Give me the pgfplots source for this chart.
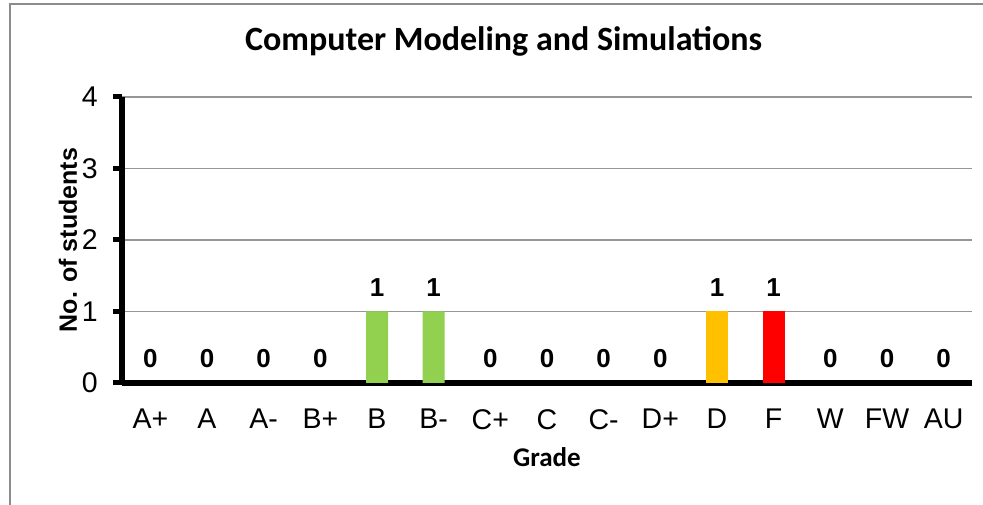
\documentclass[border=0pt]{standalone}
\usepackage{fontspec}
\setmainfont{Liberation Sans}
\newfontfamily\calibri{Carlito}
\usepackage{pgfplots}
\pgfplotsset{compat=1.18}
\definecolor{bgreen}{HTML}{92D050}
\definecolor{borange}{HTML}{FFC000}
\definecolor{bred}{HTML}{FF0000}
\definecolor{gridgray}{HTML}{969696}
\definecolor{framegray}{HTML}{8C8C8C}
\begin{document}
\begin{tikzpicture}[x=1pt,y=1pt]
\begin{axis}[
  at={(122pt,122pt)}, anchor=south west,
  scale only axis, width=850pt, height=286pt,
  xmin=-0.5, xmax=14.5, ymin=0, ymax=4,
  enlargelimits=false, clip=false,
  axis lines*=left,
  axis line style={line width=6pt, black, -},
  xtick={0,...,14},
  xticklabels={A+,A,A-,B+,B,B-,C+,C,C-,D+,D,F,W,FW,AU},
  minor xtick={-0.5,0.5,...,14.5},
  ytick={0,1,2,3,4},
  tick align=outside,
  major tick length=9pt, minor tick length=9pt,
  xtick style={draw=none},
  minor x tick style={line width=5pt, black},
  ytick style={line width=5pt, black},
  ymajorgrids,
  grid style={gridgray, line width=1.3pt},
  /pgf/number format/assume math mode=true,
  tick label style={font=\fontsize{28.5pt}{34pt}\selectfont},
  xticklabel style={inner sep=0pt, anchor=north, yshift=-26pt+9pt},
  yticklabel style={inner sep=0pt, anchor=east, xshift=-24pt+9pt},
  ybar, bar width=22pt, bar shift=0pt,
  nodes near coords,
  nodes near coords style={font=\fontsize{26pt}{31pt}\selectfont\bfseries, anchor=south, inner sep=0pt, yshift=15pt, black},
  title={\calibri\bfseries Computer Modeling and Simulations},
  title style={font=\fontsize{34pt}{40pt}\selectfont, at={(axis description cs:0.449,1.143)}, anchor=base, inner sep=0pt},
  xlabel={\calibri\bfseries Grade},
  xlabel style={font=\fontsize{27pt}{32pt}\selectfont, at={(axis description cs:0.5,-0.2937)}, anchor=base, inner sep=0pt},
  ylabel={\bfseries No. of students},
  ylabel style={font=\fontsize{25pt}{30pt}\selectfont, at={(axis description cs:-0.0635,0.5)}, anchor=center, inner sep=0pt},
]
\addplot[draw=none, fill=none] coordinates {(0,0) (1,0) (2,0) (3,0) (6,0) (7,0) (8,0) (9,0) (12,0) (13,0) (14,0)};
\addplot[draw=none, fill=bgreen] coordinates {(4,1) (5,1)};
\addplot[draw=none, fill=borange] coordinates {(10,1)};
\addplot[draw=none, fill=bred] coordinates {(11,1)};
\end{axis}
\draw[framegray, line width=2pt] (10,-5) -- (10,501) -- (983,501);
\pgfresetboundingbox
\path[use as bounding box] (0,0) rectangle (983,505);
\end{tikzpicture}
\end{document}
